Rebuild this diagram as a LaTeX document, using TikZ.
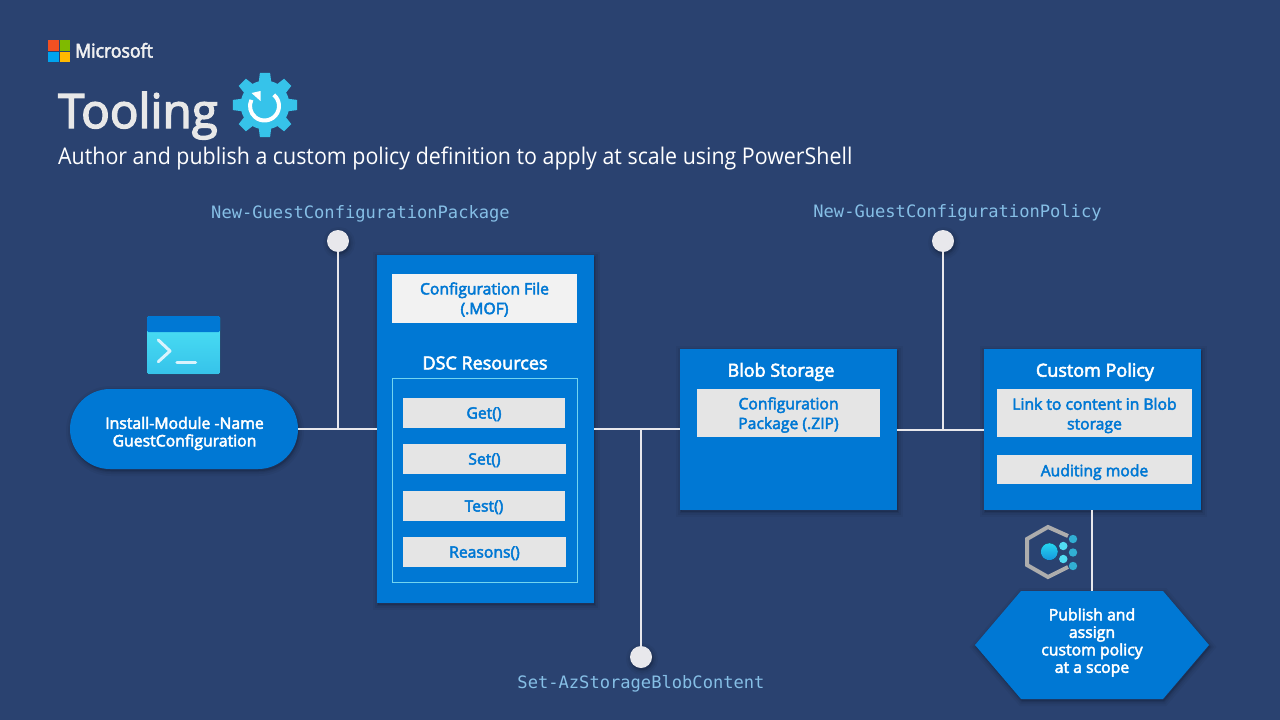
\documentclass[tikz,border=0pt]{standalone}
\usepackage{fontspec}
\setmainfont[FakeStretch=.93]{Open Sans}
\newfontfamily\monof{DejaVu Sans Mono}
\newfontfamily\semi[FakeBold=3]{Open Sans}
\newfontfamily\semis[FakeStretch=.93,FakeBold=3]{Open Sans}
\newfontfamily\titlef[FakeBold=3]{Open Sans}
\usetikzlibrary{calc}
\definecolor{bgc}{HTML}{2A4270}
\definecolor{azure}{HTML}{0078D4}
\definecolor{lineC}{HTML}{E8E8EC}
\definecolor{cyanC}{HTML}{36C3EA}
\definecolor{monoC}{HTML}{86BFE6}
\definecolor{msR}{HTML}{F25022}
\definecolor{msG}{HTML}{7FBA00}
\definecolor{msB}{HTML}{00A4EF}
\definecolor{msY}{HTML}{FFB900}
\newcommand{\fsz}[2]{\fontsize{#1}{#2}\selectfont}
\tikzset{
  x=1pt,y=-1pt,
  softshadow/.style={
    preaction={draw=black,draw opacity=.04,fill=black,fill opacity=.04,line width=10pt,transform canvas={shift={(1pt,-2pt)}}},
    preaction={draw=black,draw opacity=.05,fill=black,fill opacity=.04,line width=6pt,transform canvas={shift={(1pt,-2pt)}}},
    preaction={draw=black,draw opacity=.07,fill=black,fill opacity=.04,line width=2.5pt,transform canvas={shift={(1pt,-2pt)}}}},
  panel/.style={rectangle,fill=azure,inner sep=0pt,softshadow},
  box/.style={rectangle,fill=#1,inner sep=0pt},
  box/.default={black!10},
  item/.style={box=black!10,text=azure,text height=11.2pt,text depth=0pt,font=\semi\fsz{15.7}{19.5}},
  itemtxt/.style={inner sep=0pt,text=azure,align=center,font=\semi\fsz{15.7}{19.7}},
  head/.style={inner sep=0pt,text=white,font=\semi\fsz{18}{22}},
  wire/.style={draw=lineC,line width=2pt},
  dot/.style={circle,fill=lineC,minimum size=22pt,inner sep=0pt,softshadow},
  mono/.style={inner sep=0pt,text=monoC,font=\monof\fsz{17.1}{20}},
  whitetxt/.style={inner sep=0pt,text=white,align=center,font=\semi\fsz{15.8}{17.5}}
}
\begin{document}
\begin{tikzpicture}
\useasboundingbox (0,0) rectangle (1280,720);
\fill[bgc] (0,0) rectangle (1280,720);
% logo
\fill[msR] (48,40) rectangle (58.5,50.5);
\fill[msG] (59.5,40) rectangle (70,50.5);
\fill[msB] (48,51.5) rectangle (58.5,62);
\fill[msY] (59.5,51.5) rectangle (70,62);
\node[anchor=base west,inner sep=0pt,text=black!6,font=\semis\fsz{19}{22}] (mslogo) at (75,57.5) {Microsoft};
% titles
\node[anchor=base west,inner sep=0pt,text=black!9,font=\titlef\fsz{47.5}{50}] (title) at (58,128) {Tooling};
\node[anchor=base west,inner sep=0pt,text=white,font=\fsz{23}{26}] (subtitle) at (58,164) {Author and publish a custom policy definition to apply at scale using PowerShell};
% gear
\fill[cyanC] (265,105) circle (24.5);
\foreach \a in {0,45,...,315}{
  \fill[cyanC] ($(265,105)+(\a-16:23)$) -- ($(265,105)+(\a-9:32.5)$) -- ($(265,105)+(\a+9:32.5)$) -- ($(265,105)+(\a+16:23)$) -- cycle;
}
\draw[white,line width=4pt] (264.5,106) ++(-50:14.5) arc (-50:205:14.5);
\fill[white] (251.5,93) -- (260.5,91) -- (260.5,101) -- cycle;
% terminal icon
\fill[top color=cyanC!60!cyan!80!white,bottom color=cyanC,rounded corners=1.5pt] (147,316) rectangle (220,374);
\fill[azure,rounded corners=1.5pt] (147,316) rectangle (220,332);
\draw[white!85!cyan,line width=3pt,line cap=round,line join=round] (158.3,340) -- (170,351) -- (158.3,361.7);
\draw[white!85!cyan,line width=3.5pt,line cap=round] (177,362.3) -- (195.5,362.3);
% policy icon
\draw[black!32,line width=4pt] (1068,536) -- (1048,527) -- (1027,539) -- (1027,565) -- (1048,577) -- (1068,567);
\fill[top color=cyanC!70!cyan,bottom color=azure!60!cyanC] (1049.3,551.7) circle (8.5);
\fill[cyanC!70!cyan!80!white] (1063.3,546) circle (4.2);
\fill[cyanC!70!cyan!80!white] (1063.3,559) circle (4.2);
\fill[cyanC!90!black] (1073,539) circle (4.2);
\fill[cyanC!90!black] (1073,552.5) circle (4.2);
\fill[cyanC!90!black] (1073,566) circle (4.2);
% pill
\node[panel,rounded corners=40pt,minimum width=228pt,minimum height=80pt] (pill) at (184,429) {};
\node[whitetxt] (pilltxt) at (184.5,433.5) {Install-Module -Name\\GuestConfiguration};
% main box
\node[panel,minimum width=217pt,minimum height=348pt] (mainbox) at (485.5,429) {};
\node[box=black!5,minimum width=185pt,minimum height=49pt] (mof) at (484.5,298.5) {};
\node[itemtxt] (moft) at (484.5,299.5) {Configuration File\\(.MOF)};
\node[head] (dsc) at (485,363) {DSC Resources};
\node[draw=cyanC!70!white,rectangle,inner sep=0pt,line width=.7pt,minimum width=185.5pt,minimum height=204pt] (inner) at (485,480) {};
\node[item,minimum width=162pt,minimum height=30pt] (get) at (484,413) {Get()};
\node[item,minimum width=163pt,minimum height=30pt] (set) at (484.5,459) {Set()};
\node[item,minimum width=162pt,minimum height=30pt] (test) at (484,506) {Test()};
\node[item,minimum width=163pt,minimum height=30pt] (reasons) at (484.5,552) {Reasons()};
% blob
\node[panel,minimum width=217pt,minimum height=161pt] (blob) at (788.5,429.5) {};
\node[head] (blobt) at (781,372) {Blob Storage};
\node[box,minimum width=183pt,minimum height=48pt] (pkg) at (788.5,413) {};
\node[itemtxt] (pkgt) at (788.5,415) {Configuration\\Package (.ZIP)};
% custom
\node[panel,minimum width=217pt,minimum height=161pt] (custom) at (1092.5,429.5) {};
\node[head] (customt) at (1095,372) {Custom Policy};
\node[box,minimum width=195pt,minimum height=48pt] (link) at (1094.5,413) {};
\node[itemtxt] (linkt) at (1094.5,415.5) {Link to content in Blob\\storage};
\node[item,minimum width=195pt,minimum height=29pt,text height=13.5pt] (audit) at (1094.5,469.5) {Auditing mode};
% hexagon
\fill[azure,softshadow] (975,645) -- (1021,591) -- (1163,591) -- (1209,645) -- (1163,699) -- (1021,699) -- cycle;
\coordinate (hextop) at (1092,591);
\node[whitetxt] (hex) at (1092,642.5) {Publish and\\assign\\custom policy\\at a scope};
% dots and labels
\node[dot] (d1) at (338,241) {};
\node[dot] (d2) at (943,241) {};
\node[dot] (d3) at (641,657) {};
\node[mono] (m1) at (360.5,214) {New-GuestConfigurationPackage};
\node[mono] (m2) at (957.5,213) {New-GuestConfigurationPolicy};
\node[mono] (m3) at (641,684) {Set-AzStorageBlobContent};
% connectors
\coordinate (j1) at (338,429);
\coordinate (j2) at (943,429);
\coordinate (j3) at (641,429);
\draw[wire] (pill.east) -- (mainbox.west);
\draw[wire] (mainbox.east) -- (mainbox.east -| blob.west);
\draw[wire] (blob.east) -- (blob.east -| custom.west);
\draw[wire] (d1.south) -- (j1);
\draw[wire] (d2.south) -- (j2);
\draw[wire] (d3.north) -- (j3);
\draw[wire] (custom.south -| hextop) -- (hextop);
\end{tikzpicture}
\end{document}
